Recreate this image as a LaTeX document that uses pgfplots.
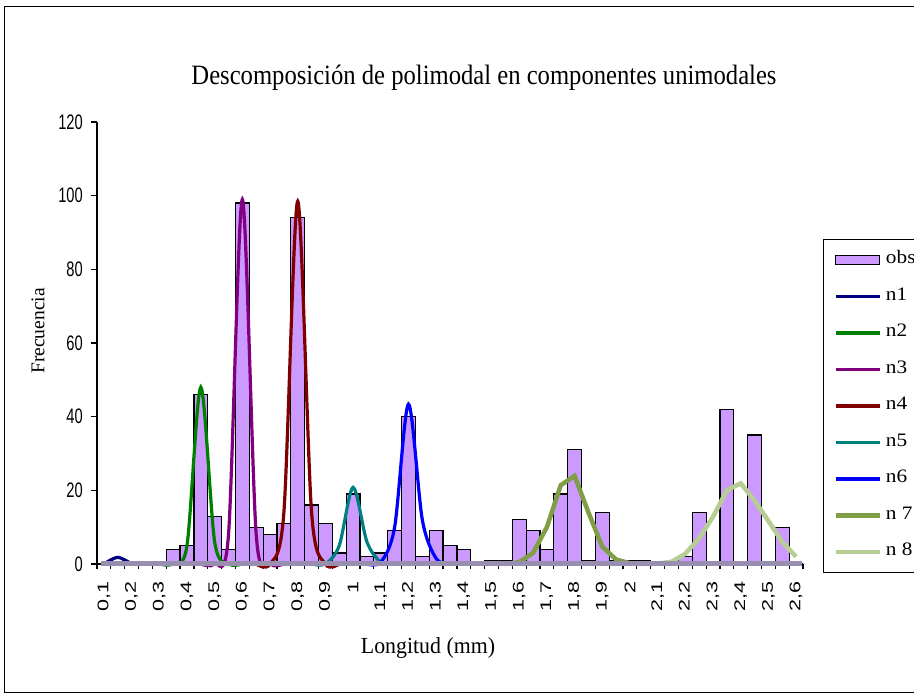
\documentclass[border=0pt]{standalone}
\usepackage{pgfplots}
\pgfplotsset{compat=1.18}
\usepackage{fontspec}
\setmainfont{Liberation Serif}
\newfontfamily\ytfont[FakeStretch=0.70]{Liberation Sans}
\newfontfamily\xtfont[FakeStretch=1.40]{Liberation Sans}
\newfontfamily\ttlfont[FakeStretch=0.88]{Liberation Serif}
\newfontfamily\lblfont[FakeStretch=0.95]{Liberation Serif}
\newfontfamily\legfont[FakeStretch=1.12]{Liberation Serif}

\definecolor{obsfill}{RGB}{204,153,255}
\definecolor{cn1}{RGB}{0,0,128}
\definecolor{cn2}{RGB}{0,128,0}
\definecolor{cn3}{RGB}{128,0,128}
\definecolor{cn4}{RGB}{128,0,0}
\definecolor{cn5}{RGB}{0,128,128}
\definecolor{cn6}{RGB}{0,0,255}
\definecolor{cn7}{RGB}{128,158,70}
\definecolor{cn8}{RGB}{182,205,148}
\definecolor{cbase}{RGB}{152,142,176}

\begin{document}
\begin{tikzpicture}
\path[use as bounding box] (0pt,0pt) rectangle (914pt,698pt);
\draw[line width=1pt, black] (4pt,5pt) rectangle (940pt,691pt);
\begin{axis}[
  at={(97pt,134pt)}, anchor=south west,
  scale only axis, width=706pt, height=442pt,
  xmin=-0.5, xmax=50.5, ymin=0, ymax=120,
  axis x line=bottom, axis y line=left,
  axis line style={-, black, line width=1.2pt},
  xtick={0,2,...,50},
  xticklabels={{0,1},{0,2},{0,3},{0,4},{0,5},{0,6},{0,7},{0,8},{0,9},{1},{1,1},{1,2},{1,3},{1,4},{1,5},{1,6},{1,7},{1,8},{1,9},{2},{2,1},{2,2},{2,3},{2,4},{2,5},{2,6}},
  minor xtick={-0.5,0.5,...,50.5},
  tick align=outside,
  tick style={black, line width=1.2pt},
  major x tick style={draw=none},
  minor tick length=5pt, major tick length=6pt,
  ytick={0,20,...,120},
  xticklabel style={rotate=90, anchor=east, font=\xtfont\fontsize{15.4}{16}\selectfont, inner sep=0pt},
  yticklabel style={font=\ytfont\fontsize{21}{21}\selectfont, inner sep=0pt},
  xticklabel shift=11pt, yticklabel shift=8pt,
  /pgf/number format/assume math mode=true,
  clip=false,
  legend style={at={(1.0283,0.7353)}, anchor=north west, draw=black, line width=1pt,
    inner xsep=10pt, inner ysep=11.5pt, row sep=18.5pt, column sep=4pt,
    font=\legfont\fontsize{19}{19}\selectfont,
    nodes={inner sep=0pt, text height=13pt, text depth=5pt}},
  legend cell align=left,
]
\addplot[ybar, bar width=1, fill=obsfill, draw=black, line width=1.2pt,
  legend image code/.code={\draw[fill=obsfill, draw=black, line width=1.2pt] (0pt,-4.5pt) rectangle (44pt,4.5pt);}]
table[row sep=\\] {
x y\\
0 0\\ 1 0\\ 2 0\\ 3 0\\ 4 0\\ 5 4\\ 6 5\\ 7 46\\ 8 13\\ 9 4\\
10 98\\ 11 10\\ 12 8\\ 13 11\\ 14 94\\ 15 16\\ 16 11\\ 17 3\\ 18 19\\ 19 2\\
20 3\\ 21 9\\ 22 40\\ 23 2\\ 24 9\\ 25 5\\ 26 4\\ 27 0\\ 28 1\\ 29 1\\
30 12\\ 31 9\\ 32 4\\ 33 19\\ 34 31\\ 35 1\\ 36 14\\ 37 1\\ 38 1\\ 39 1\\
40 0\\ 41 0\\ 42 2\\ 43 14\\ 44 0\\ 45 42\\ 46 0\\ 47 35\\ 48 0\\ 49 10\\ 50 0\\
};
\addlegendentry{obs}
\addplot[cn1, line width=3.2pt, smooth,
  legend image code/.code={\draw[cn1, line width=3.2pt] (0pt,0pt) -- (44pt,0pt);}]
coordinates {(0,0) (1,1.8) (2,0)};
\addlegendentry{n1}
\addplot[cn2, line width=3.2pt, smooth,
  legend image code/.code={\draw[cn2, line width=3.2pt] (0pt,0pt) -- (44pt,0pt);}]
coordinates {(4,0) (5,0) (6,5) (7,48) (8,6) (9,0) (10,0)};
\addlegendentry{n2}
\addplot[cn3, line width=3.2pt, smooth,
  legend image code/.code={\draw[cn3, line width=3.2pt] (0pt,0pt) -- (44pt,0pt);}]
coordinates {(7,0) (8,0) (9,8) (10,99) (11,8) (12,0) (13,0)};
\addlegendentry{n3}
\addplot[cn4, line width=3.2pt, smooth,
  legend image code/.code={\draw[cn4, line width=3.2pt] (0pt,0pt) -- (44pt,0pt);}]
coordinates {(11,0) (12,0) (13,14) (14,98.5) (15,14) (16,0) (17,0)};
\addlegendentry{n4}
\addplot[cn5, line width=3.2pt, smooth,
  legend image code/.code={\draw[cn5, line width=3.2pt] (0pt,0pt) -- (44pt,0pt);}]
coordinates {(15,0) (16,0) (17,5) (18,20.8) (19,6) (20,0.5) (21,0)};
\addlegendentry{n5}
\addplot[cn6, line width=3.2pt, smooth,
  legend image code/.code={\draw[cn6, line width=3.2pt] (0pt,0pt) -- (44pt,0pt);}]
coordinates {(19,0) (20,0.5) (21,10) (22,43.4) (23,12) (24,1.5) (25,0)};
\addlegendentry{n6}
\addplot[cn7, line width=4.5pt,
  legend image code/.code={\draw[cn7, line width=4.5pt] (0pt,0pt) -- (44pt,0pt);}]
coordinates {(29,0) (30,0.5) (31,3) (32,10) (33,21.4) (34,23.9) (35,14) (36,4.7) (37,1.2) (38,0.2) (39,0)};
\addlegendentry{n 7}
\addplot[cn8, line width=4.5pt,
  legend image code/.code={\draw[cn8, line width=4.5pt] (0pt,0pt) -- (44pt,0pt);}]
coordinates {(39,0) (40,0.1) (41,0.6) (42,2.8) (43,7) (44,12.8) (45,20) (46,21.9) (47,17.2) (48,11.7) (49,6) (50,2)};
\addlegendentry{n 8}
\addplot[cbase, line width=5pt, forget plot] coordinates {(-0.2,0) (50.4,0)};
\end{axis}
\node[font=\ttlfont\fontsize{28}{30}\selectfont] at (484pt,620pt) {Descomposición de polimodal en componentes unimodales};
\node[font=\lblfont\fontsize{23}{25}\selectfont] at (428pt,50pt) {Longitud (mm)};
\node[font=\fontsize{19.5}{21}\selectfont, rotate=90] at (38pt,367pt) {Frecuencia};
\end{tikzpicture}
\end{document}
